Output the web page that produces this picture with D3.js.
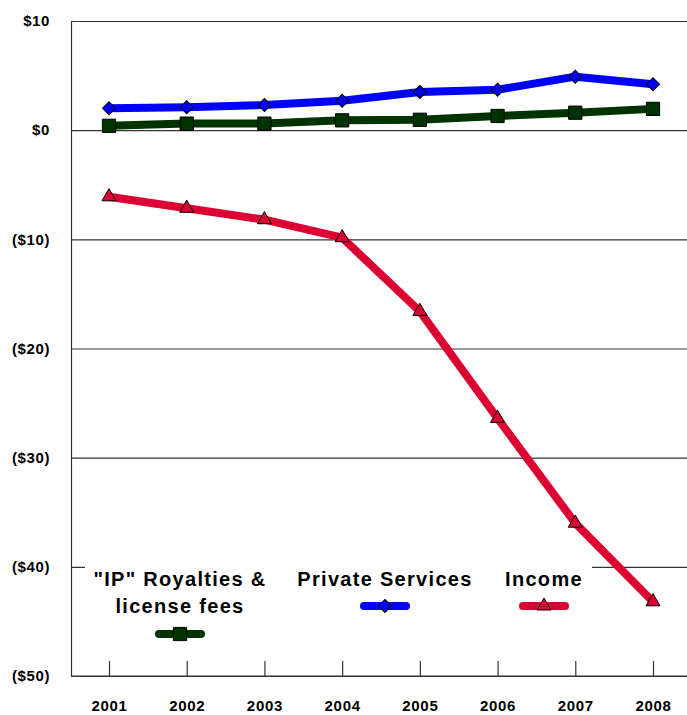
<!DOCTYPE html>
<html>
<head>
<meta charset="utf-8">
<script src="https://cdn.jsdelivr.net/npm/d3@7"></script>
<style>
    body { margin: 0; background: #fff; }
    text { font-family: "Liberation Sans", Arial, sans-serif; font-weight: bold; }
</style>
</head>
<body>
<div id="graph"></div>
<script>
var years = ['2001', '2002', '2003', '2004', '2005', '2006', '2007', '2008'];
var royalties = [0.4, 0.6, 0.6, 0.9, 0.95, 1.3, 1.6, 1.95];
var services = [2.0, 2.1, 2.3, 2.7, 3.5, 3.7, 4.9, 4.2];
var income = [-6.1, -7.15, -8.2, -9.85, -16.6, -26.4, -36.0, -43.2];
var yTicks = [10, 0, -10, -20, -30, -40, -50];

var green = '#003300',
    blue = '#0000ff',
    red = '#dd0033';

var width = 687,
    height = 715;

var svg = d3.select('#graph')
    .append('svg')
        .attr('width', width)
        .attr('height', height);

var x = d3.scalePoint()
    .domain(years)
    .range([109, 653]);

var y = d3.scaleLinear()
    .domain([-50, 10])
    .range([676, 21]);

var left = 71;

// gridlines
svg.append('g')
    .attr('transform', 'translate(' + left + ',0)')
    .call(d3.axisRight(y).tickValues(yTicks).tickSize(width - left).tickFormat(''))
    .call(g => g.select('.domain').remove())
    .selectAll('line').attr('stroke', '#333').attr('stroke-width', 1.2);

// y axis
svg.append('g')
    .attr('transform', 'translate(' + left + ',0)')
    .call(d3.axisLeft(y).tickValues(yTicks).tickSize(0).tickPadding(21)
        .tickFormat(d => d >= 0 ? '$' + d : '($' + (-d) + ')'))
    .call(g => g.select('.domain').attr('stroke', '#333').attr('stroke-width', 1.2))
    .selectAll('text').attr('font-size', 15).attr('letter-spacing', 0.6).attr('fill', '#000');

// x axis
var xAxis = svg.append('g')
    .attr('transform', 'translate(0,' + y(-50) + ')')
    .call(d3.axisBottom(x).tickSize(-15).tickPadding(24));
xAxis.select('.domain').attr('d', 'M' + left + ',0H' + width).attr('stroke', '#333').attr('stroke-width', 1.2);
xAxis.selectAll('line').attr('stroke', '#333').attr('stroke-width', 1.2);
xAxis.selectAll('text').attr('font-size', 15).attr('letter-spacing', 0.7).attr('fill', '#000');

// LEGEND box (white, covers gridline)
svg.append('rect')
    .attr('x', 85).attr('y', 558)
    .attr('width', 507).attr('height', 88)
    .attr('fill', '#fff');

var line = d3.line()
    .x((d, i) => x(years[i]))
    .y(d => y(d));

var series = [
    { values: royalties, color: green, shape: d3.symbolSquare, size: 175, rot: 0 },
    { values: services, color: blue, shape: d3.symbolSquare, size: 85, rot: 45 },
    { values: income, color: red, shape: d3.symbolTriangle, size: 85, rot: 0 }
];

series.forEach(function(s) {
    svg.append('path')
        .datum(s.values)
        .attr('d', line)
        .attr('fill', 'none')
        .attr('stroke', s.color)
        .attr('stroke-width', 8)
        .attr('stroke-linejoin', 'round');
    svg.append('g')
        .selectAll('path')
        .data(s.values).enter().append('path')
        .attr('transform', (d, i) => 'translate(' + x(years[i]) + ',' + y(d) + ') rotate(' + s.rot + ')')
        .attr('d', d3.symbol().type(s.shape).size(s.size))
        .attr('fill', s.color)
        .attr('stroke', '#000')
        .attr('stroke-width', 1);
});

// legend entries
var legendItems = [
    { lines: ['"IP" Royalties &', 'license fees'], cx: 180, ly: 634, s: series[0] },
    { lines: ['Private Services'], cx: 385, ly: 606, s: series[1] },
    { lines: ['Income'], cx: 544, ly: 606, s: series[2] }
];

legendItems.forEach(function(item) {
    item.lines.forEach(function(t, i) {
        svg.append('text')
            .attr('x', item.cx)
            .attr('y', 586 + i * 27)
            .attr('text-anchor', 'middle')
            .attr('font-size', 20)
            .attr('letter-spacing', 1.3)
            .text(t);
    });
    svg.append('line')
        .attr('x1', item.cx - 21).attr('x2', item.cx + 21)
        .attr('y1', item.ly).attr('y2', item.ly)
        .attr('stroke', item.s.color)
        .attr('stroke-width', 8)
        .attr('stroke-linecap', 'round');
    svg.append('path')
        .attr('transform', 'translate(' + item.cx + ',' + item.ly + ') rotate(' + item.s.rot + ')')
        .attr('d', d3.symbol().type(item.s.shape).size(item.s.size))
        .attr('fill', item.s.color)
        .attr('stroke', '#000')
        .attr('stroke-width', 1);
});
</script>
</body>
</html>
